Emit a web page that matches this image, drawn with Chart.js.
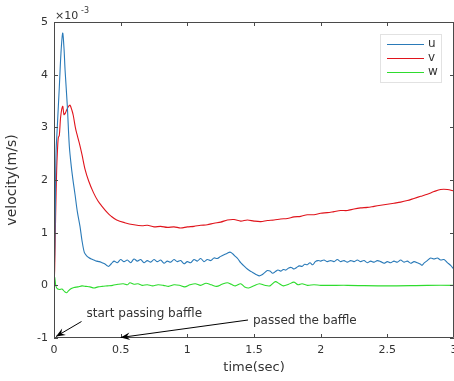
<!DOCTYPE html>
<html>
<head>
<meta charset="utf-8">
<script src="https://cdn.jsdelivr.net/npm/chart.js@4.4.0/dist/chart.umd.min.js"></script>
<style>
html,body{margin:0;padding:0;background:#fff}
</style>
</head>
<body>
<canvas id="c" width="454" height="381"></canvas>
<script>
// velocity values in units of 1e-3 m/s
let uT=[0,0.005,0.01,0.015,0.025,0.04,0.052,0.065,0.075,0.083,0.1,0.115,0.13,0.145,0.158,0.175,0.195,0.21,0.228,0.245,0.26,0.28,0.3,0.32,0.34,0.36,0.38,0.4,0.41,0.43,
0.45,0.475,0.5,0.525,0.55,0.575,0.6,0.625,0.65,0.675,0.7,0.725,0.75,0.775,0.8,0.825,0.85,0.875,0.9,0.925,0.95,0.975,1.0,1.025,1.05,1.075,1.1,1.125,1.15,1.175,
1.2,1.225,1.25,1.275,1.3,1.32,1.34,1.36,1.38,1.4,1.42,1.44,1.46,1.48,1.5,1.52,1.54,1.56,1.58,1.6,1.62,1.64,1.66,1.68,1.7,1.72,1.74,1.76,1.78,1.8,
1.82,1.84,1.86,1.88,1.9,1.92,1.94,1.96,1.98,2.0,2.025,2.05,2.075,2.1,2.125,2.15,2.175,2.2,2.225,2.25,2.275,2.3,2.325,2.35,2.375,2.4,2.425,2.45,2.475,2.5,
2.525,2.55,2.575,2.6,2.625,2.65,2.675,2.7,2.725,2.75,2.76,2.775,2.8,2.825,2.85,2.875,2.9,2.925,2.95,2.975,3.0]
let uV=[0,0.6,1.5,2.5,3.02,3.77,4.4,4.79,4.5,4.09,3.4,2.64,2.25,1.95,1.72,1.4,1.12,0.85,0.62,0.56,0.53,0.5,0.48,0.46,0.45,0.43,0.41,0.37,0.36,0.41,
0.46,0.43,0.49,0.45,0.48,0.43,0.5,0.46,0.49,0.43,0.47,0.44,0.49,0.45,0.48,0.42,0.46,0.44,0.49,0.45,0.47,0.41,0.45,0.43,0.49,0.46,0.51,0.45,0.49,0.47,
0.52,0.51,0.55,0.58,0.61,0.63,0.6,0.55,0.5,0.43,0.38,0.33,0.29,0.26,0.23,0.2,0.18,0.2,0.24,0.28,0.27,0.23,0.26,0.29,0.27,0.3,0.29,0.33,0.34,0.31,
0.34,0.37,0.36,0.4,0.39,0.43,0.39,0.45,0.47,0.46,0.48,0.45,0.47,0.45,0.49,0.45,0.47,0.44,0.47,0.45,0.48,0.45,0.47,0.43,0.46,0.44,0.47,0.45,0.42,0.45,
0.43,0.46,0.44,0.48,0.44,0.46,0.42,0.45,0.43,0.4,0.38,0.42,0.47,0.52,0.5,0.52,0.48,0.49,0.43,0.38,0.3]

let vT=[0,0.005,0.012,0.02,0.025,0.032,0.04,0.05,0.065,0.075,0.085,0.095,0.11,0.12,0.135,0.145,0.16,0.17,0.19,0.21,0.233,0.26,0.296,0.33,0.36,0.4,0.43,0.47,0.53,0.6,
0.66,0.7,0.75,0.8,0.85,0.9,0.95,1.0,1.05,1.1,1.15,1.2,1.25,1.3,1.35,1.4,1.45,1.5,1.55,1.6,1.65,1.7,1.75,1.8,1.85,1.9,1.95,2.0,2.05,2.1,
2.15,2.2,2.25,2.3,2.35,2.4,2.45,2.5,2.55,2.6,2.65,2.7,2.75,2.8,2.85,2.9,2.95,3.0]
let vV=[0,0.3,1.3,2.2,2.51,2.8,2.85,3.2,3.4,3.24,3.27,3.33,3.4,3.42,3.32,3.22,3.0,2.89,2.7,2.48,2.2,1.98,1.76,1.6,1.5,1.38,1.31,1.24,1.19,1.15,
1.13,1.14,1.11,1.12,1.1,1.11,1.09,1.11,1.12,1.14,1.15,1.18,1.2,1.24,1.25,1.22,1.24,1.22,1.21,1.23,1.24,1.26,1.27,1.3,1.31,1.34,1.34,1.37,1.38,1.4,
1.42,1.42,1.45,1.47,1.48,1.5,1.52,1.54,1.56,1.58,1.61,1.65,1.69,1.73,1.78,1.82,1.82,1.79]

let wT=[0,0.005,0.012,0.02,0.04,0.06,0.08,0.095,0.11,0.13,0.15,0.18,0.21,0.24,0.27,0.3,0.33,0.36,0.4,0.44,0.48,0.52,0.55,0.57,0.6,0.63,0.66,0.7,0.74,0.78,
0.82,0.86,0.9,0.94,0.98,1.02,1.06,1.1,1.14,1.18,1.22,1.26,1.3,1.33,1.36,1.4,1.43,1.46,1.5,1.54,1.58,1.62,1.66,1.69,1.72,1.76,1.8,1.83,1.86,1.9,
1.95,2.0,2.2,2.5,2.8,3.0]
let wV=[0,0.15,0.02,-0.05,-0.08,-0.07,-0.12,-0.14,-0.1,-0.06,-0.04,-0.03,-0.01,-0.02,-0.03,-0.05,-0.03,-0.02,-0.01,0,0.02,0.03,0.01,0.05,0.02,0.03,0,0.01,-0.01,0.01,
0,-0.02,0.01,0,-0.03,0.01,0.03,0,0.04,0.01,-0.02,0.02,0.05,0.02,-0.01,0.03,-0.03,-0.05,-0.01,0.03,0,-0.01,0.07,0.03,-0.01,0.02,0.06,0.01,0.03,0,
0.01,0,0,-0.01,0,0]

let names=["u","v","w"]
let colors=["#2a7ab8","#e0141c","#2edc2e"]
let xTicks=[0,0.5,1,1.5,2,2.5,3]
let yTicks=[-1,0,1,2,3,4,5]

function pts(t,v){return t.map((x,i)=>({x:x,y:v[i]}))}

const TXT="#333"
const AX="#4a4a4a"
const FONT='"DejaVu Sans", sans-serif'

const deco={
id:"deco",
afterDatasetsDraw(chart){
let ctx=chart.ctx
let xs=chart.scales.x, ys=chart.scales.y
let a=chart.chartArea
ctx.save()

// box + inward ticks
ctx.strokeStyle=AX
ctx.lineWidth=1
ctx.beginPath()
ctx.rect(a.left+0.5,a.top+0.5,a.right-a.left-1,a.bottom-a.top-1)
xTicks.forEach(t=>{
let px=Math.round(xs.getPixelForValue(t))+0.5
ctx.moveTo(px,a.bottom);ctx.lineTo(px,a.bottom-4)
ctx.moveTo(px,a.top);ctx.lineTo(px,a.top+4)
})
yTicks.forEach(t=>{
let py=Math.round(ys.getPixelForValue(t))+0.5
ctx.moveTo(a.left,py);ctx.lineTo(a.left+4,py)
ctx.moveTo(a.right,py);ctx.lineTo(a.right-4,py)
})
ctx.stroke()

// tick labels
ctx.fillStyle=TXT
ctx.font="11px "+FONT
ctx.textAlign="center";ctx.textBaseline="top"
xTicks.forEach(t=>ctx.fillText(String(t),xs.getPixelForValue(t),a.bottom+7))
ctx.textAlign="right";ctx.textBaseline="middle"
yTicks.forEach(t=>ctx.fillText(String(t),a.left-6,ys.getPixelForValue(t)))

// exponent
ctx.textAlign="left";ctx.textBaseline="alphabetic"
ctx.font="11px "+FONT
ctx.fillText("\u00d710",a.left+1,a.top-3)
ctx.font="8px "+FONT
ctx.fillText("-3",a.left+27,a.top-9)

// axis titles
ctx.font="13px "+FONT
ctx.textAlign="center";ctx.textBaseline="middle"
ctx.fillText("time(sec)",(a.left+a.right)/2,368)
ctx.save()
ctx.translate(12,(a.top+a.bottom)/2)
ctx.rotate(-Math.PI/2)
ctx.font="14px "+FONT
ctx.fillText("velocity(m/s)",0,0)
ctx.restore()

// legend
ctx.fillStyle="#fff"
ctx.fillRect(380.5,34.5,61,48)
ctx.strokeStyle="#e2e2e2"
ctx.strokeRect(380.5,34.5,61,48)
names.forEach((n,i)=>{
let y=44+i*14
ctx.strokeStyle=colors[i]
ctx.beginPath();ctx.moveTo(387,y+0.5);ctx.lineTo(424,y+0.5);ctx.stroke()
ctx.fillStyle=TXT
ctx.font="12px "+FONT
ctx.textAlign="left";ctx.textBaseline="middle"
ctx.fillText(n,428,y)
})

// annotations
function arrow(x1,y1,x2,y2){
ctx.strokeStyle="#000";ctx.fillStyle="#000";ctx.lineWidth=1
ctx.beginPath();ctx.moveTo(x1,y1);ctx.lineTo(x2,y2);ctx.stroke()
let ang=Math.atan2(y2-y1,x2-x1),L=10,W=0.38
ctx.beginPath()
ctx.moveTo(x2,y2)
ctx.lineTo(x2-L*Math.cos(ang-W),y2-L*Math.sin(ang-W))
ctx.lineTo(x2-L*0.6*Math.cos(ang),y2-L*0.6*Math.sin(ang))
ctx.lineTo(x2-L*Math.cos(ang+W),y2-L*Math.sin(ang+W))
ctx.closePath();ctx.fill()
}
let b0x=xs.getPixelForValue(0)+2, b0y=ys.getPixelForValue(-1)-1.5
let b1x=xs.getPixelForValue(0.5), b1y=ys.getPixelForValue(-1)-0.5
arrow(81.5,321.5,b0x,b0y)
arrow(248,320,b1x,b1y)
ctx.fillStyle=TXT
ctx.font="12px "+FONT
ctx.textAlign="left";ctx.textBaseline="middle"
ctx.fillText("start passing baffle",86.5,314)
ctx.fillText("passed the baffle",253,321)

ctx.restore()
}
}

new Chart(document.getElementById("c"),{
type:"line",
data:{
datasets:[
{label:names[0],data:pts(uT,uV),borderColor:colors[0]},
{label:names[1],data:pts(vT,vV),borderColor:colors[1]},
{label:names[2],data:pts(wT,wV),borderColor:colors[2]}
]
},
options:{
responsive:false,
animation:false,
layout:{padding:{top:22,right:0,left:0,bottom:0}},
elements:{line:{borderWidth:1.1,tension:0.3},point:{radius:0}},
plugins:{legend:{display:false},tooltip:{enabled:false}},
scales:{
x:{type:"linear",min:0,max:3,
grid:{display:false},border:{display:false},ticks:{display:false},
afterFit(s){s.height=43}},
y:{type:"linear",min:-1,max:5,
grid:{display:false},border:{display:false},ticks:{display:false},
afterFit(s){s.width=54}}
}
},
plugins:[deco]
})
</script>
</body>
</html>
